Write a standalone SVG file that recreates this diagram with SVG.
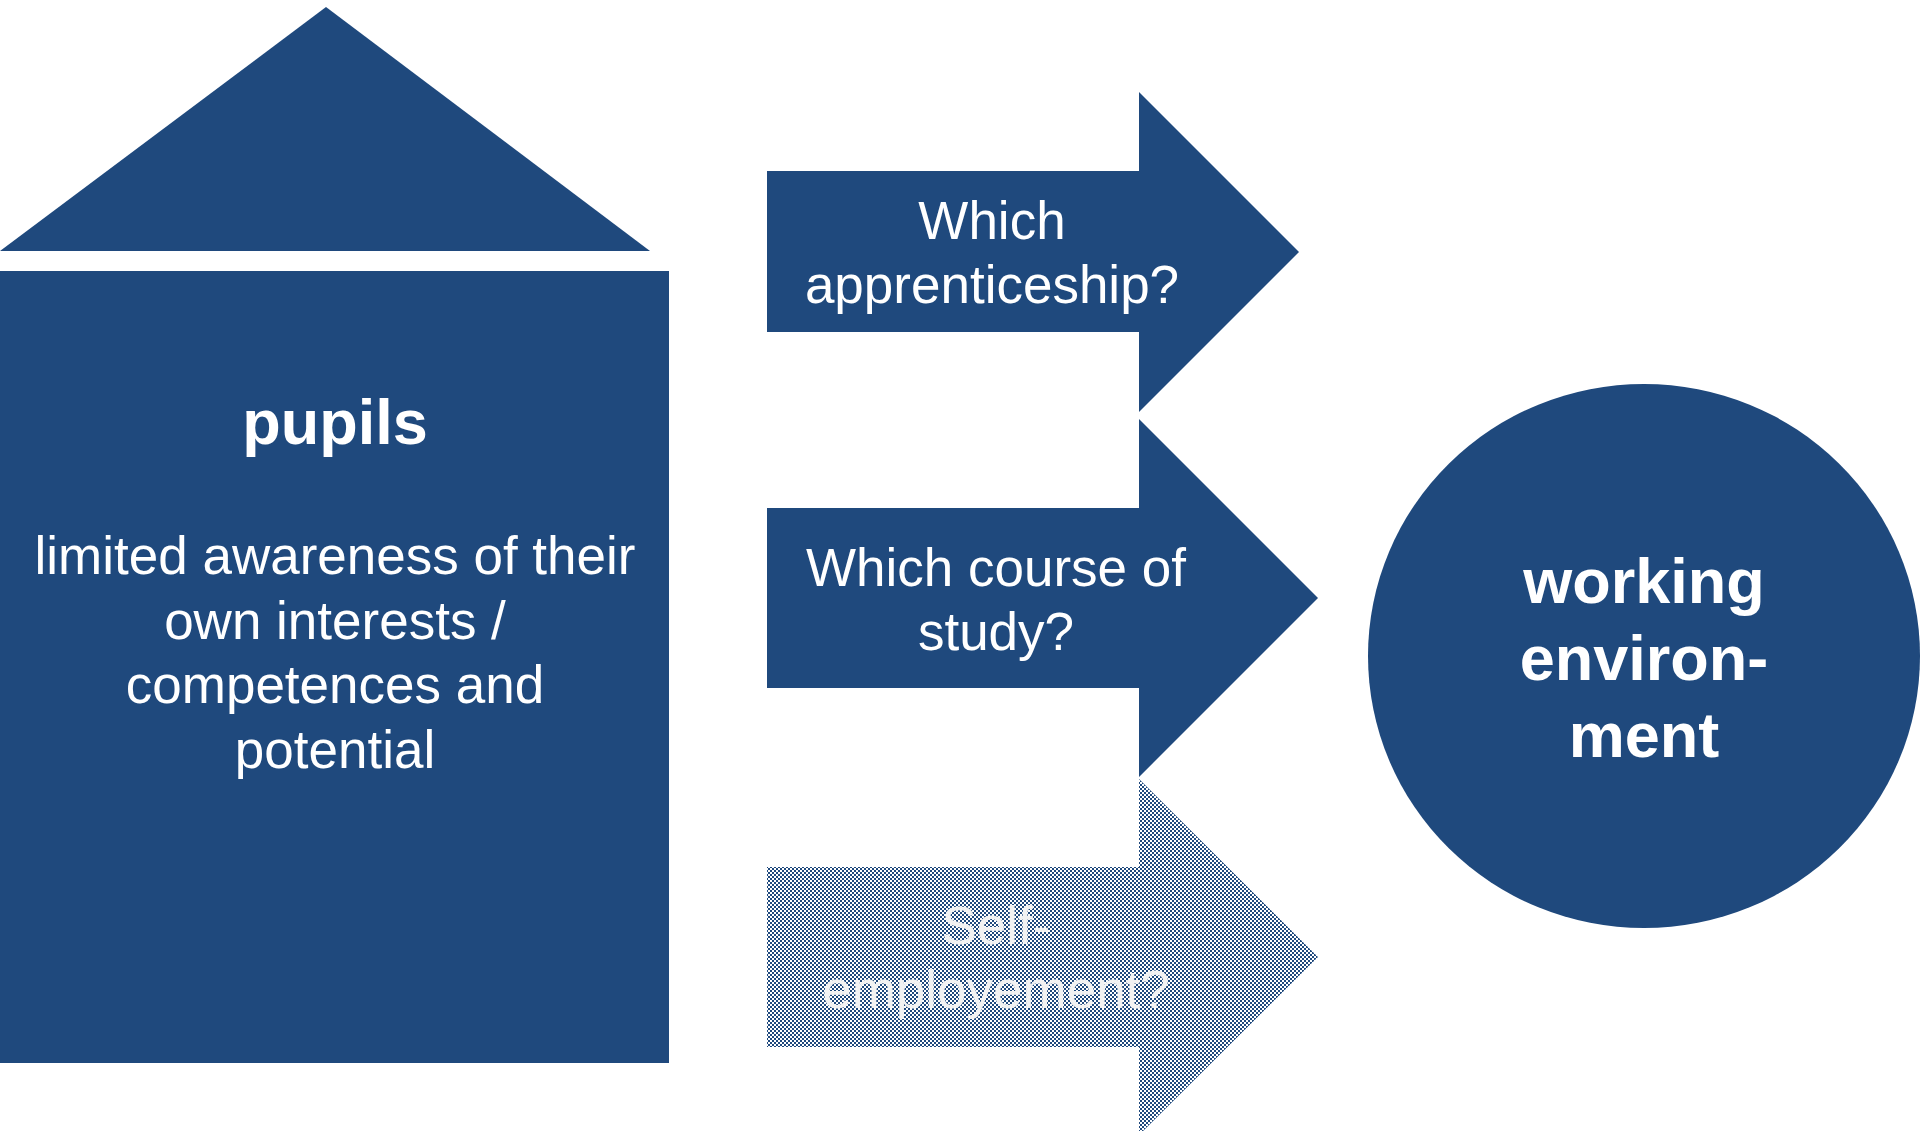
<svg xmlns="http://www.w3.org/2000/svg" width="1920" height="1131" viewBox="0 0 1920 1131">
<defs>
<pattern id="checker" x="0" y="0" width="4" height="4" patternUnits="userSpaceOnUse">
<rect width="4" height="4" fill="#FFFFFF"/>
<rect x="0" y="0" width="2" height="2" fill="#1F497D"/>
<rect x="2" y="2" width="2" height="2" fill="#1F497D"/>
</pattern>
</defs>
<style>
.shape{fill:#1F497D}
.hatch{fill:url(#checker)}
.t{font-family:"Liberation Sans",Arial,sans-serif;fill:#FFFFFF;text-anchor:middle}
.b{font-weight:bold;font-size:63px}
.r{font-size:53px}
.faded{fill:#F2F2F2}
</style>
<rect width="1920" height="1131" fill="#FFFFFF"/>
<g id="pupils">
<polygon class="shape" points="326,7 650,251 0,251"/>
<rect class="shape" x="0" y="271" width="669" height="792"/>
<text class="t b" x="335" y="444">pupils</text>
<text class="t r" x="335" y="574">limited awareness of their</text>
<text class="t r" x="335" y="638.5">own interests /</text>
<text class="t r" x="335" y="703">competences and</text>
<text class="t r" x="335" y="767.5">potential</text>
</g>
<g id="connectors">
<g id="arrow-apprenticeship">
<polygon class="shape" points="767,171 1139,171 1139,92 1299,252 1139,412 1139,332 767,332"/>
<text class="t r" x="992" y="239">Which</text>
<text class="t r" x="992" y="303">apprenticeship?</text>
</g>
<g id="arrow-study">
<polygon class="shape" points="767,508 1139,508 1139,419 1318,598 1139,777 1139,688 767,688"/>
<text class="t r" x="996" y="586">Which course of</text>
<text class="t r" x="996" y="650">study?</text>
</g>
<g id="arrow-self">
<polygon class="hatch" points="767,867 1139,867 1139,779 1318,957 1139,1135 1139,1047 767,1047"/>
<text class="t r faded" x="996" y="944">Self-</text>
<text class="t r faded" x="996" y="1008">employement?</text>
</g>
</g>
<g id="working-environment">
<ellipse class="shape" cx="1644" cy="656" rx="276" ry="272"/>
<text class="t b" x="1644" y="603">working</text>
<text class="t b" x="1644" y="680">environ-</text>
<text class="t b" x="1644" y="757">ment</text>
</g>
</svg>
